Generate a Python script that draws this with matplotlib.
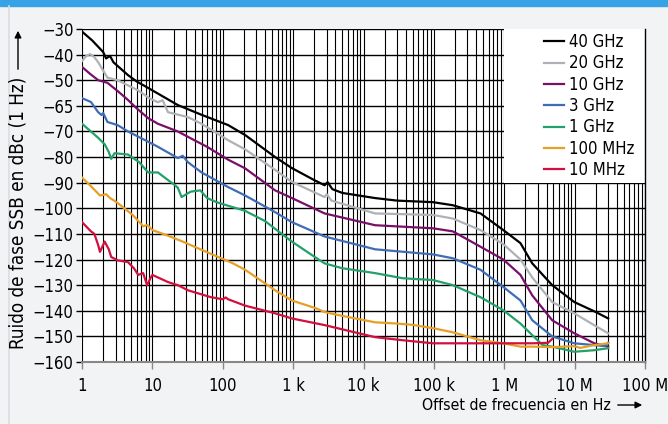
import matplotlib.pyplot as plt
import matplotlib.patches as mpatches
from matplotlib.lines import Line2D
from matplotlib.ticker import LogLocator, FixedLocator, NullFormatter
import numpy as np

plt.rcParams['font.family'] = ['DejaVu Sans']
plt.rcParams['font.stretch'] = 'condensed'
plt.rcParams['font.size'] = 12

# --- data (offset in Hz, noise in dBc/Hz) ---
f_40g = [1, 1.4, 2.0, 2.2, 2.5, 2.8, 4.5, 6, 8.7, 23, 50, 119, 208, 555, 960, 2000,
         2800, 3100, 3600, 5000, 14600, 30000, 97000, 186000, 460000, 970000,
         1.7e6, 2.5e6, 4.8e6, 9.9e6, 20e6, 30e6]
n_40g = [-31, -34.5, -39, -41.5, -40.5, -43, -48, -50.5, -53, -59.7, -63.5, -67.5, -71.4,
         -80, -84.3, -89, -91, -89.8, -92.5, -94, -96, -97, -97.6, -98.8, -102, -108.5,
         -113.6, -121.5, -130, -136.6, -140.5, -143]

f_20g = [1, 1.15, 1.3, 1.5, 1.7, 2.3, 3.2, 4.5, 6.3, 9, 12, 14, 16.7, 20, 32, 50, 119,
         208, 555, 960, 2800, 3000, 3500, 14600, 97000, 186000, 460000, 970000, 1.7e6,
         2.5e6, 4.8e6, 9.9e6, 20e6, 30e6]
n_20g = [-42.5, -40.5, -39.8, -41, -43, -49, -50, -52, -54, -57, -58.6, -57.8, -62.5, -63,
         -64.4, -67, -73.4, -77, -85, -89.7, -95.6, -94.5, -97, -102, -102.6, -104, -108.5,
         -114, -120, -127, -136.6, -141, -146, -148.8]

f_10g = [1, 1.3, 1.7, 2.3, 3.3, 4.5, 6, 8.7, 12, 23, 40, 60, 119, 208, 555, 960, 2800,
         14600, 97000, 186000, 460000, 970000, 1.7e6, 2.5e6, 4.8e6, 9.9e6, 19e6, 30e6]
n_10g = [-44.8, -47.5, -50, -51, -54.5, -57.7, -61, -64.8, -67, -70, -73.5, -76, -81,
         -84.4, -93, -96, -102, -106.6, -107.8, -109, -115, -120, -126, -134, -143.7,
         -148.8, -152.7, -154]

f_3g = [1, 1.34, 1.7, 1.9, 2.0, 2.3, 3.2, 4.5, 8.7, 12, 23, 27, 32, 50, 119, 208, 555,
        960, 2800, 14600, 97000, 186000, 460000, 970000, 1.7e6, 2.5e6, 4.8e6, 9.9e6,
        19e6, 27e6, 30e6]
n_3g = [-57, -58.5, -62.5, -63.6, -62.8, -66.3, -67.5, -70, -74, -76, -80.4, -79.5, -82,
        -86, -91.7, -95, -101.5, -105.4, -111, -116, -118, -119.5, -124, -130.7, -136,
        -143.7, -150, -152.7, -153.4, -153.8, -152.5]

f_1g = [1, 1.34, 1.7, 2.1, 2.4, 2.6, 2.9, 4.5, 6.5, 8.7, 12, 16.7, 21, 23, 26, 35, 48,
        60, 80, 119, 208, 400, 555, 960, 2300, 2800, 5000, 14600, 36000, 97000, 186000,
        460000, 970000, 1.7e6, 2.5e6, 3.5e6, 4.8e6, 9.9e6, 19e6, 30e6]
n_1g = [-67, -70, -72.5, -75, -78, -80.7, -78.5, -79, -82, -86, -86, -89, -91, -92,
        -95.6, -93.5, -93, -96, -97.5, -99, -101, -105, -108, -113, -120, -121.5, -123.4,
        -125.3, -127.3, -128, -130, -134.7, -139.8, -145, -149.5, -153.4, -154, -156,
        -155.4, -154.6]

f_100m = [1, 1.3, 1.8, 2.2, 2.5, 3.1, 5.3, 7.4, 8.5, 10, 16, 27, 48, 140, 208, 555, 960,
          2100, 2800, 5000, 14600, 30000, 50000, 97000, 186000, 460000, 970000, 1.7e6,
          2.5e6, 5e6, 9.9e6, 12e6, 19e6, 30e6]
n_100m = [-88, -91, -95, -94.5, -96, -97.6, -102.7, -107, -106.5, -108.5, -110.5, -113,
          -116, -121.5, -124, -132, -136, -139, -140.5, -142, -144.5, -145, -145.5,
          -146.8, -148.4, -151.5, -152.7, -154, -154, -154.2, -153.8, -154.5, -153.4,
          -152.7]

f_10m = [1, 1.34, 1.5, 1.7, 1.8, 2.1, 2.4, 2.6, 3.2, 4.5, 5.5, 6.3, 7.4, 8.4, 9.5, 10,
         16.7, 20, 23, 32, 68, 100, 110, 119, 208, 555, 960, 2800, 14600, 36000, 97000,
         460000, 1.7e6, 2.5e6, 4.2e6, 4.8e6]
n_10m = [-105.4, -109, -110, -114.4, -117, -113, -116, -119, -120.3, -121, -123.5, -126,
         -125.3, -130, -127, -126, -128.8, -129.5, -130, -132, -134.7, -135.5, -134.8,
         -135.5, -138, -141, -143, -145.6, -150.3, -151.5, -152.7, -152.7, -152.7,
         -152.7, -152.5, -151]

series = [
    ("40 GHz", f_40g, n_40g, "#000000"),
    ("20 GHz", f_20g, n_20g, "#AEB2B6"),
    ("10 GHz", f_10g, n_10g, "#7A0F6A"),
    ("3 GHz", f_3g, n_3g, "#3F6DB5"),
    ("1 GHz", f_1g, n_1g, "#24A06B"),
    ("100 MHz", f_100m, n_100m, "#E6A024"),
    ("10 MHz", f_10m, n_10m, "#D20F3F"),
]

y_ticks = [-30, -40, -50, -60, -70, -80, -90, -100, -110, -120, -130, -140, -150, -160]
y_tick_labels = ["−30", "−40", "−50", "−65", "−70", "−80", "−90", "−100", "−110",
                 "−120", "−130", "−140", "−150", "−160"]
x_ticks = [1, 10, 100, 1e3, 1e4, 1e5, 1e6, 1e7, 1e8]
x_tick_labels = ["1", "10", "100", "1 k", "10 k", "100 k", "1 M", "10 M", "100 M"]

# --- figure ---
fig = plt.figure(figsize=(6.68, 4.24), dpi=100, facecolor="#F1F3F5")
ax = fig.add_axes([82 / 668, 1 - 362 / 424, 563 / 668, 333 / 424])
ax.set_facecolor("white")

# header bar and left rule
fig.patches.append(mpatches.Rectangle((0, 1 - 6 / 424), 1, 6 / 424, transform=fig.transFigure,
                                      color="#37A3E6", zorder=0))
fig.lines.append(Line2D([9 / 668, 9 / 668], [0, 1 - 6 / 424], transform=fig.transFigure,
                        color="#D9DDE1", lw=1.2))

ax.set_xscale("log")
ax.set_xlim(1, 1e8)
ax.set_ylim(-160, -30)

ax.xaxis.set_major_locator(FixedLocator(x_ticks))
ax.set_xticklabels(x_tick_labels)
ax.xaxis.set_minor_locator(LogLocator(base=10, subs=np.arange(2, 10), numticks=20))
ax.xaxis.set_minor_formatter(NullFormatter())
ax.set_yticks(y_ticks)
ax.set_yticklabels(y_tick_labels)

ax.set_axisbelow(True)
ax.grid(True, which="both", axis="x", color="black", lw=0.8)
ax.grid(True, which="major", axis="y", color="black", lw=1.0)

ax.tick_params(axis="x", which="major", length=5, width=1, color="#888888", pad=6)
ax.tick_params(axis="x", which="minor", length=0)
ax.tick_params(axis="y", length=4, width=1, color="black", pad=2)
for side in ["top", "left"]:
    ax.spines[side].set_visible(False)
ax.spines["right"].set_color("black")
ax.spines["right"].set_linewidth(1.0)
ax.spines["bottom"].set_color("#888888")
ax.spines["bottom"].set_linewidth(1.5)

# white panel behind the legend
ax.add_patch(mpatches.Rectangle((1e6, -90), 1e8 - 1e6, 60, facecolor="white",
                                edgecolor="none", zorder=1))

handles = []
for label, f, n, c in series:
    h, = ax.plot(f, n, color=c, lw=1.6, label=label, zorder=3, solid_joinstyle="round")
    handles.append(h)

ax.legend(handles=handles, loc="upper left", bbox_to_anchor=(0.806, 1.013),
          frameon=False, borderpad=0, handlelength=1.2, handletextpad=0.3,
          labelspacing=0.2, fontsize=12)

# axis labels with arrows
fig.text(18 / 668, 1 - 213 / 424, "Ruido de fase SSB en dBc (1 Hz)", rotation=90,
         ha="center", va="center", fontsize=13.5)
fig.add_artist(mpatches.FancyArrowPatch((18 / 668, 1 - 72 / 424), (18 / 668, 1 - 28 / 424),
                                        transform=fig.transFigure, arrowstyle="-|>",
                                        mutation_scale=10, lw=1, color="black"))
fig.text(611 / 668, 1 - 405 / 424, "Offset de frecuencia en Hz", ha="right", va="center",
         fontsize=11.3)
fig.add_artist(mpatches.FancyArrowPatch((615 / 668, 1 - 405 / 424), (645 / 668, 1 - 405 / 424),
                                        transform=fig.transFigure, arrowstyle="-|>",
                                        mutation_scale=10, lw=1, color="black"))

fig.savefig("out.png", dpi=100, facecolor=fig.get_facecolor())
